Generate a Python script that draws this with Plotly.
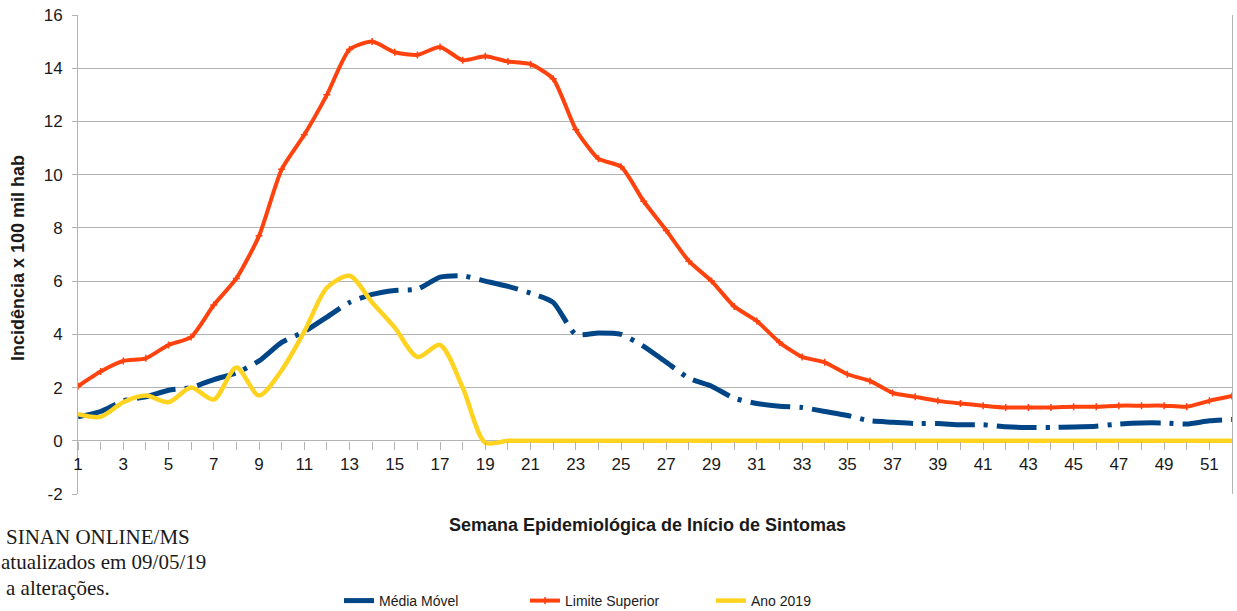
import plotly.graph_objects as go

weeks = list(range(1, 53))

media_movel = [0.9, 1.1, 1.5, 1.65, 1.9, 2.0, 2.3, 2.55, 3.0, 3.7,
               4.1, 4.65, 5.2, 5.5, 5.65, 5.7, 6.15, 6.2, 6.0, 5.8,
               5.55, 5.2, 4.0, 4.05, 4.0, 3.55, 2.95, 2.35, 2.05, 1.6,
               1.4, 1.3, 1.25, 1.1, 0.95, 0.75, 0.7, 0.65, 0.65, 0.6,
               0.6, 0.53, 0.5, 0.5, 0.52, 0.55, 0.63, 0.67, 0.67, 0.63,
               0.75, 0.8]

limite_superior = [2.05, 2.6, 3.0, 3.1, 3.6, 3.9, 5.1, 6.1, 7.7, 10.2,
                   11.5, 13.0, 14.7, 15.0, 14.6, 14.5, 14.8, 14.3, 14.45, 14.25,
                   14.15, 13.6, 11.7, 10.6, 10.3, 9.0, 7.9, 6.75, 6.0, 5.05,
                   4.5, 3.7, 3.15, 2.95, 2.5, 2.25, 1.8, 1.65, 1.5, 1.4,
                   1.32, 1.25, 1.25, 1.25, 1.28, 1.28, 1.32, 1.32, 1.32, 1.28,
                   1.5, 1.68]

ano_2019 = [1.0, 0.9, 1.45, 1.7, 1.45, 2.0, 1.55, 2.75, 1.7, 2.65,
            4.1, 5.75, 6.2, 5.2, 4.25, 3.15, 3.6, 2.0, -0.07, 0.0,
            0, 0, 0, 0, 0, 0, 0, 0, 0, 0,
            0, 0, 0, 0, 0, 0, 0, 0, 0, 0,
            0, 0, 0, 0, 0, 0, 0, 0, 0, 0,
            0, 0]

tick_text = [str(w) if w % 2 == 1 else "" for w in weeks]
y_ticks = list(range(-2, 17, 2))
y_tick_text = [str(v) for v in y_ticks]

BLUE = "#004586"
RED = "#ff420e"
YELLOW = "#ffd320"
GRID = "#b3b3b3"
TXT = "#1a1a1a"

W, H = 1237, 611
ML, MR, MT, MB = 78, 5, 15, 117
PW, PH = W - ML - MR, H - MT - MB


def px_x(x):
    return (x - ML) / PW


def px_y(y):
    return (H - MB - y) / PH


fig = go.Figure()
fig.add_trace(go.Scatter(
    x=weeks, y=media_movel, name="Média Móvel", mode="lines",
    line=dict(color=BLUE, width=5, shape="spline", smoothing=0.6,
              dash="40px,9px,4px,9px"),
))
fig.add_trace(go.Scatter(
    x=weeks, y=limite_superior, name="Limite Superior", mode="lines+markers",
    line=dict(color=RED, width=4, shape="spline", smoothing=0.6),
    marker=dict(symbol="cross-thin-open", size=5, color=RED,
                line=dict(color=RED, width=1.5)),
))
fig.add_trace(go.Scatter(
    x=weeks, y=ano_2019, name="Ano 2019", mode="lines",
    line=dict(color=YELLOW, width=4.5, shape="spline", smoothing=0.8),
))

ymin, ymax = -2, 16
zero_pos = (0 - ymin) / (ymax - ymin)

fig.update_layout(
    width=W, height=H,
    margin=dict(l=ML, r=MR, t=MT, b=MB, autoexpand=False),
    paper_bgcolor="white", plot_bgcolor="white",
    font=dict(family="Liberation Sans, Arial, sans-serif", color=TXT, size=16),
    showlegend=True,
    legend=dict(orientation="h", x=px_x(339), xanchor="left", y=px_y(601), yanchor="middle",
                font=dict(size=14, color=TXT), entrywidth=141, entrywidthmode="pixels",
                itemwidth=30, tracegroupgap=0, bgcolor="rgba(0,0,0,0)"),
    xaxis=dict(
        range=[1, 52], tickmode="array", tickvals=weeks, ticktext=tick_text,
        anchor="free", position=zero_pos, automargin=False,
        showline=False, showgrid=False, zeroline=False,
        ticks="outside", ticklen=8, tickcolor=GRID, tickwidth=1,
        tickfont=dict(size=17, color=TXT),
    ),
    yaxis=dict(
        range=[ymin, ymax], tickmode="array", tickvals=y_ticks, ticktext=y_tick_text,
        showgrid=True, gridcolor=GRID, gridwidth=1,
        zeroline=True, zerolinecolor=GRID, zerolinewidth=1, automargin=False,
        showline=True, linecolor=GRID, linewidth=1, mirror=True,
        ticks="outside", ticklen=5, tickcolor=GRID, ticklabelstandoff=6,
        tickfont=dict(size=17, color=TXT),
    ),
)

fig.add_annotation(text="<b>Incidência x 100 mil hab</b>",
                   xref="paper", yref="paper", x=px_x(18), y=px_y(258),
                   xanchor="center", yanchor="middle", textangle=-90,
                   showarrow=False, font=dict(size=18, color=TXT))

fig.add_annotation(text="<b>Semana Epidemiológica de Início de Sintomas</b>",
                   xref="paper", yref="paper", x=px_x(647), y=px_y(525),
                   xanchor="center", yanchor="middle",
                   showarrow=False, font=dict(size=18, color=TXT))

serif = "Liberation Serif, Times New Roman, serif"
for txt, xpix, ypix in [("SINAN ONLINE/MS", 191, 537),
                        ("atualizados em 09/05/19", 207, 562),
                        ("a alterações.", 111, 588)]:
    fig.add_annotation(text=txt, xref="paper", yref="paper",
                       x=px_x(xpix), y=px_y(ypix),
                       xanchor="right", yanchor="middle", showarrow=False,
                       borderpad=0,
                       font=dict(family=serif, size=21, color=TXT))

fig.write_html("out.html", config={"displayModeBar": False},
               post_script="document.body.style.margin='0';document.body.style.padding='0';")
